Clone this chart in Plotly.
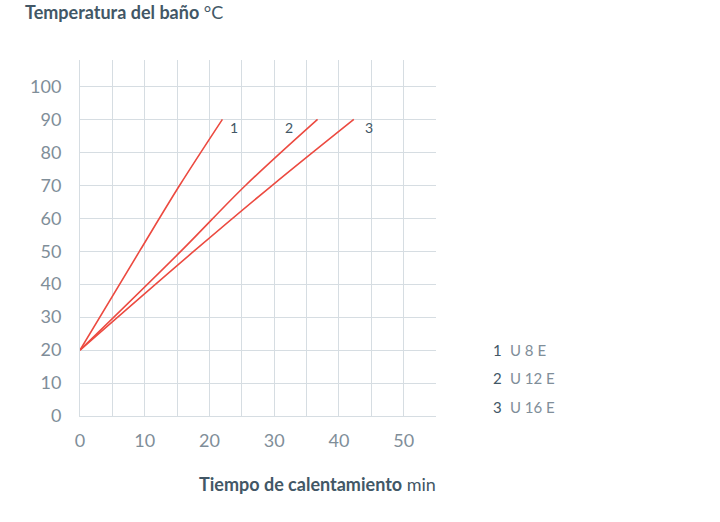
import plotly.graph_objects as go

# Data
series_names = ["1", "2", "3"]
models = ["U 8 E", "U 12 E", "U 16 E"]
s1_x = [0, 9.2, 15.4, 22.0]
s1_y = [20, 50, 70, 90]
s2_x = [0, 15.6, 25.6, 36.7]
s2_y = [20, 50, 70, 90]
s3_x = [0, 17.6, 29.7, 42.3]
s3_y = [20, 50, 70, 90]
x_ticks = [0, 10, 20, 30, 40, 50]
y_ticks = [0, 10, 20, 30, 40, 50, 60, 70, 80, 90, 100]

RED = "#ec4a40"
GRID = "#d6dde2"
DARK = "#425766"
TICK = "#7f8e99"
FONT = "Lato"

fig = go.Figure()
for xs, ys in [(s1_x, s1_y), (s2_x, s2_y), (s3_x, s3_y)]:
    fig.add_trace(go.Scatter(x=xs, y=ys, mode="lines",
                             line=dict(color=RED, width=1.6, shape="spline", smoothing=1.0),
                             showlegend=False, hoverinfo="skip"))

# Line-end labels
label_pos = [(23.8, 87.6), (32.3, 87.6), (44.6, 87.6)]
for name, (lx, ly) in zip(series_names, label_pos):
    fig.add_annotation(x=lx, y=ly, text=name, showarrow=False,
                       font=dict(family=FONT, size=14, color=DARK))

# Right-side key
key_y = [0.155, 0.075, -0.005]
for name, model, ky in zip(series_names, models, key_y):
    fig.add_annotation(xref="paper", yref="paper", x=1.155, y=ky, text=name,
                       showarrow=False, xanchor="left",
                       font=dict(family=FONT, size=15, color=DARK))
    fig.add_annotation(xref="paper", yref="paper", x=1.202, y=ky, text=model,
                       showarrow=False, xanchor="left",
                       font=dict(family=FONT, size=15, color=TICK))

# Titles
fig.add_annotation(xref="paper", yref="paper", x=-0.16, y=1.135,
                   xanchor="left", yanchor="middle", showarrow=False,
                   text="<b>Temperatura del baño</b> °C",
                   font=dict(family=FONT, size=18, color=DARK))
fig.add_annotation(xref="paper", yref="paper", x=0.666, y=-0.19,
                   xanchor="center", yanchor="middle", showarrow=False,
                   text="<b>Tiempo de calentamiento</b> min",
                   font=dict(family=FONT, size=18, color=DARK))

fig.update_xaxes(range=[0, 55], tickvals=x_ticks, ticktext=[str(v) for v in x_ticks],
                 showgrid=True, gridcolor=GRID, gridwidth=1,
                 zeroline=False, showline=True, linecolor=GRID, linewidth=1,
                 tickfont=dict(family=FONT, size=18, color=TICK),
                 ticks="", ticklabelstandoff=8)
fig.update_xaxes(minor=dict(dtick=5, tick0=0, showgrid=True, gridcolor=GRID, gridwidth=1))
fig.update_yaxes(range=[0, 108], tickvals=y_ticks, ticktext=[str(v) for v in y_ticks],
                 showgrid=True, gridcolor=GRID, gridwidth=1,
                 zeroline=False, showline=True, linecolor=GRID, linewidth=1,
                 tickfont=dict(family=FONT, size=18, color=TICK),
                 ticks="", ticklabelstandoff=14)

fig.update_layout(width=720, height=522,
                  margin=dict(l=80, r=284, t=60, b=106),
                  plot_bgcolor="white", paper_bgcolor="white",
                  font=dict(family=FONT))

fig.write_html("out.html")
